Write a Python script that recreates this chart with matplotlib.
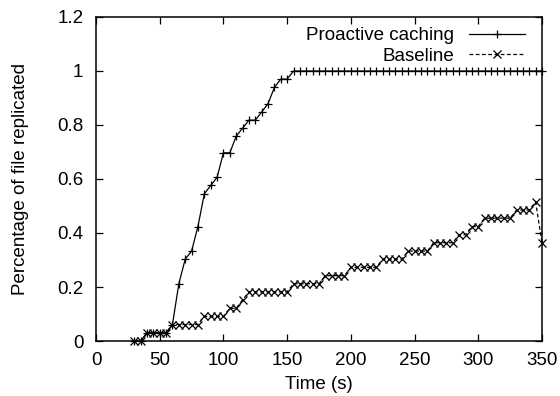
import matplotlib
matplotlib.use("Agg")
import matplotlib.pyplot as plt

# sample times (s), one sample every 5 s
time_s = list(range(30, 355, 5))

# fraction of the file replicated
proactive = [0, 0,
             0.030, 0.030, 0.030, 0.030,
             0.061, 0.212, 0.303, 0.333, 0.424, 0.545, 0.576, 0.606,
             0.697, 0.697, 0.758, 0.788, 0.818, 0.818, 0.848, 0.879,
             0.939, 0.970, 0.970] + [1.0] * 40

baseline = [0, 0,
            0.030, 0.030, 0.030, 0.030,
            0.061, 0.061, 0.061, 0.061, 0.061,
            0.091, 0.091, 0.091, 0.091,
            0.121, 0.121,
            0.152,
            0.182, 0.182, 0.182, 0.182, 0.182, 0.182, 0.182,
            0.212, 0.212, 0.212, 0.212, 0.212,
            0.242, 0.242, 0.242, 0.242,
            0.273, 0.273, 0.273, 0.273, 0.273,
            0.303, 0.303, 0.303, 0.303,
            0.333, 0.333, 0.333, 0.333,
            0.364, 0.364, 0.364, 0.364,
            0.394, 0.394,
            0.424, 0.424,
            0.455, 0.455, 0.455, 0.455, 0.455,
            0.485, 0.485, 0.485,
            0.515,
            0.364]

plt.rcParams['font.family'] = ['Liberation Sans', 'DejaVu Sans']
plt.rcParams['font.size'] = 13.5

fig = plt.figure(figsize=(5.6, 3.96), dpi=100)
ax = fig.add_axes([96 / 560, 55 / 396, 446 / 560, 324 / 396])

ax.plot(time_s, proactive, color='black', lw=0.9, marker='+', ms=6, mew=0.9,
        label='Proactive caching', clip_on=False)
ax.plot(time_s, baseline, color='black', lw=0.9, ls=(0, (3, 2)), marker='x',
        ms=5.5, mew=0.9, label='Baseline', clip_on=False)

ax.set_xlim(0, 350)
ax.set_ylim(0, 1.2)
ax.set_xticks(range(0, 351, 50))
ax.set_yticks([0, 0.2, 0.4, 0.6, 0.8, 1, 1.2])
ax.set_yticklabels(['0', '0.2', '0.4', '0.6', '0.8', '1', '1.2'])
ax.tick_params(direction='in', length=5, width=0.9, top=True, right=True)
ax.tick_params(axis='x', pad=8)
ax.tick_params(axis='y', pad=9)
for s in ax.spines.values():
    s.set_linewidth(1.1)

ax.set_xlabel('Time (s)', labelpad=5)
ax.set_ylabel('Percentage of file replicated', labelpad=20)

ax.legend(loc='upper right', bbox_to_anchor=(0.962, 0.969), frameon=False,
          markerfirst=False, numpoints=1, handlelength=3.0, handletextpad=0.8,
          labelspacing=0.2, borderpad=0, borderaxespad=0)

fig.savefig('out.png', dpi=100)
